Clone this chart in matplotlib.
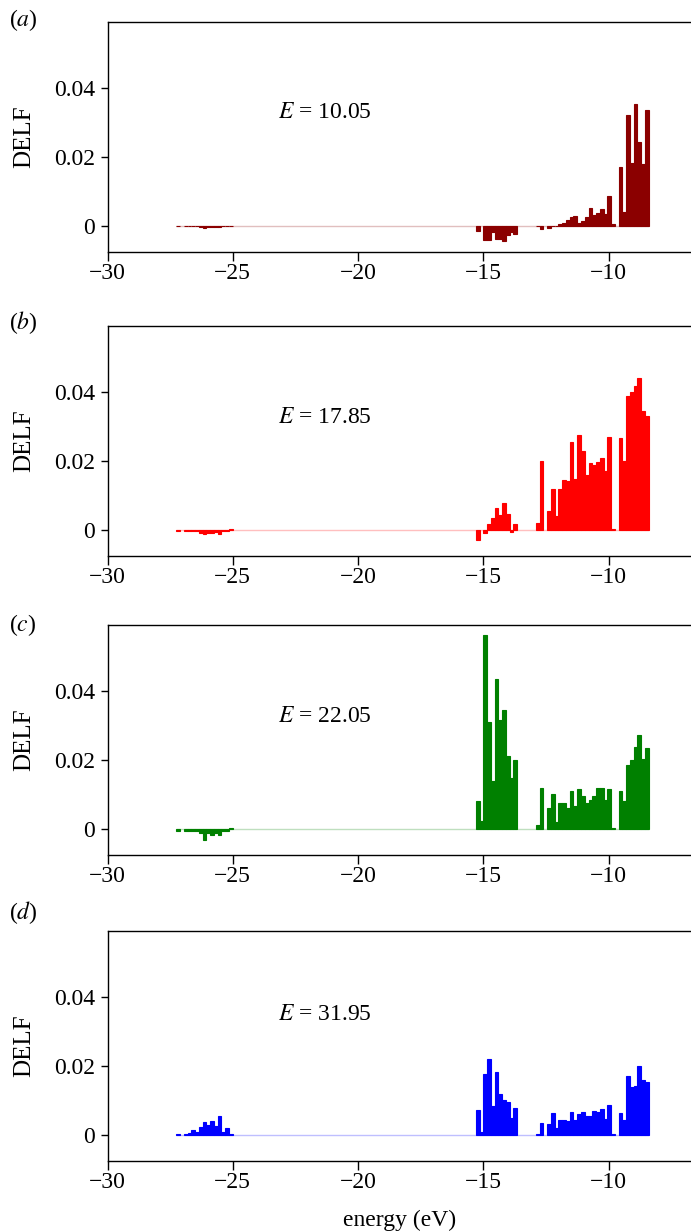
import numpy as np
import matplotlib
matplotlib.use('Agg')
import matplotlib.pyplot as plt

plt.rcParams['font.family'] = ['Liberation Serif', 'DejaVu Serif']
plt.rcParams['mathtext.fontset'] = 'stix'
plt.rcParams['font.size'] = 17

# energy bins (eV)
bin_width = 0.15
left_start = -27.25   # deep valence cluster
right_start = -15.3   # outer valence cluster

energies = [10.05, 17.85, 22.05, 31.95]
panel_tags = ['a', 'b', 'c', 'd']
colors = ['darkred', 'red', 'green', 'blue']

# DELF values, deep cluster (15 bins)
left_a = [-0.0002, 0, -0.0002, -0.0002, -0.0002, -0.0002, -0.0004, -0.0007,
          -0.0004, -0.0004, -0.0004, -0.0004, -0.0002, -0.0002, -0.0002]
left_b = [-0.0003, 0, -0.0005, -0.0005, -0.0005, -0.0005, -0.0009, -0.0014,
          -0.0009, -0.0009, -0.0007, -0.0012, -0.0003, -0.0005, 0.0002]
left_c = [-0.0007, 0, -0.0008, -0.0008, -0.0008, -0.0008, -0.0012, -0.0033,
          -0.0012, -0.0018, -0.0012, -0.0019, -0.0006, -0.0008, 0.0003]
left_d = [0.0002, 0, 0.0001, 0.0005, 0.0014, 0.0008, 0.0021, 0.0037,
          0.0027, 0.004, 0.0025, 0.0053, 0.0008, 0.0019, 0.0002]

# DELF values, outer cluster (46 bins)
right_a = [-0.0016, 0, -0.0043, -0.0043, -0.0019, -0.004, -0.004, -0.0045,
           -0.0028, -0.0019, -0.0025, 0, 0, 0, 0, 0,
           -0.0002, -0.001, 0, -0.0008, -0.0002, -0.0002, 0.0004, 0.0007,
           0.0015, 0.0024, 0.0027, 0.0007, 0.0013, 0.0024, 0.005, 0.003,
           0.0036, 0.0047, 0.0033, 0.0085, 0.0004, 0, 0.0169, 0.0039,
           0.032, 0.0181, 0.0352, 0.0242, 0.0178, 0.0334]
right_b = [-0.003, 0, -0.001, 0.0015, 0.0033, 0.0062, 0.0042, 0.0076,
           0.0044, -0.0007, 0.0015, 0, 0, 0, 0, 0,
           0.0018, 0.0198, 0, 0.0053, 0.0117, 0.0039, 0.0117, 0.0143,
           0.014, 0.0253, 0.0146, 0.0273, 0.0227, 0.0157, 0.0192, 0.0186,
           0.0195, 0.0207, 0.0169, 0.0268, 0.0002, 0, 0.0265, 0.0199,
           0.0386, 0.0398, 0.0415, 0.0439, 0.0343, 0.0329]
right_c = [0.0079, 0.0021, 0.056, 0.0308, 0.0138, 0.0433, 0.0314, 0.0343,
           0.021, 0.0146, 0.0198, 0, 0, 0, 0, 0,
           0.001, 0.0117, 0, 0.0059, 0.01, 0.0018, 0.0073, 0.0073,
           0.0059, 0.0108, 0.0065, 0.0114, 0.0094, 0.0073, 0.0082, 0.0094,
           0.0117, 0.0117, 0.0082, 0.0114, 0.0001, 0, 0.0108, 0.0079,
           0.0184, 0.0198, 0.0236, 0.0271, 0.0201, 0.0233]
right_d = [0.0071, 0.0008, 0.0175, 0.0218, 0.0082, 0.0181, 0.0117, 0.01,
           0.0094, 0.0047, 0.0076, 0, 0, 0, 0, 0,
           0.0003, 0.0033, 0, 0.003, 0.0062, 0.0018, 0.0042, 0.0042,
           0.0039, 0.0065, 0.0042, 0.0059, 0.0065, 0.0053, 0.0053, 0.0068,
           0.0065, 0.0073, 0.0044, 0.0085, 0.0001, 0, 0.0062, 0.0042,
           0.0169, 0.0137, 0.014, 0.0198, 0.0157, 0.0152]

left_vals = [left_a, left_b, left_c, left_d]
right_vals = [right_a, right_b, right_c, right_d]

fig = plt.figure(figsize=(6.91, 12.32), dpi=100)
W, H = 691.0, 1232.0
tops = [22, 326, 625, 931]      # axes top in pixels
label_y = [20, 323, 625, 913]   # panel tag y in pixels
text_y = [0.0328, 0.0325, 0.0325, 0.0348]

for i in range(4):
    ax = fig.add_axes([107.5 / W, 1 - (tops[i] + 229.5) / H, 585 / W, 229.5 / H])
    lv = np.array(left_vals[i])
    rv = np.array(right_vals[i])
    lx = left_start + bin_width * np.arange(len(lv))
    rx = right_start + bin_width * np.arange(len(rv))
    ax.hlines(0, lx[0], rx[-1] + bin_width, color=colors[i], alpha=0.25, lw=1)
    # only non-empty bins, edges drawn so that neighbours join
    x = np.concatenate([lx, rx])
    v = np.concatenate([lv, rv])
    keep = v != 0
    ax.bar(x[keep], v[keep], width=bin_width, align='edge', color=colors[i],
           edgecolor=colors[i], linewidth=0.8)

    ax.set_xlim(-30, -6.65)
    ax.set_ylim(-0.0075, 0.059)
    ax.set_xticks([-30, -25, -20, -15, -10])
    ax.set_xticklabels(['\u221230', '\u221225', '\u221220', '\u221215', '\u221210'])
    ax.set_yticks([0, 0.02, 0.04])
    ax.set_yticklabels(['0', '0.02', '0.04'])
    ax.spines['right'].set_visible(False)
    for s in ['left', 'top', 'bottom']:
        ax.spines[s].set_linewidth(1.0)
    ax.tick_params(direction='out', length=5, width=1.0, pad=4)
    ax.tick_params(axis='x', length=6.5, pad=2)
    ax.set_ylabel('DELF', fontsize=18)
    ax.yaxis.set_label_coords(-0.124, 0.5)
    ax.text(-23.19, text_y[i], '$E$ = %.2f' % energies[i], ha='left', va='center')
    fig.text(9 / W, 1 - label_y[i] / H, '($%s$)' % panel_tags[i], ha='left', va='center')

ax.set_xlabel('energy (eV)', labelpad=12)

fig.savefig('out.png', dpi=100)
